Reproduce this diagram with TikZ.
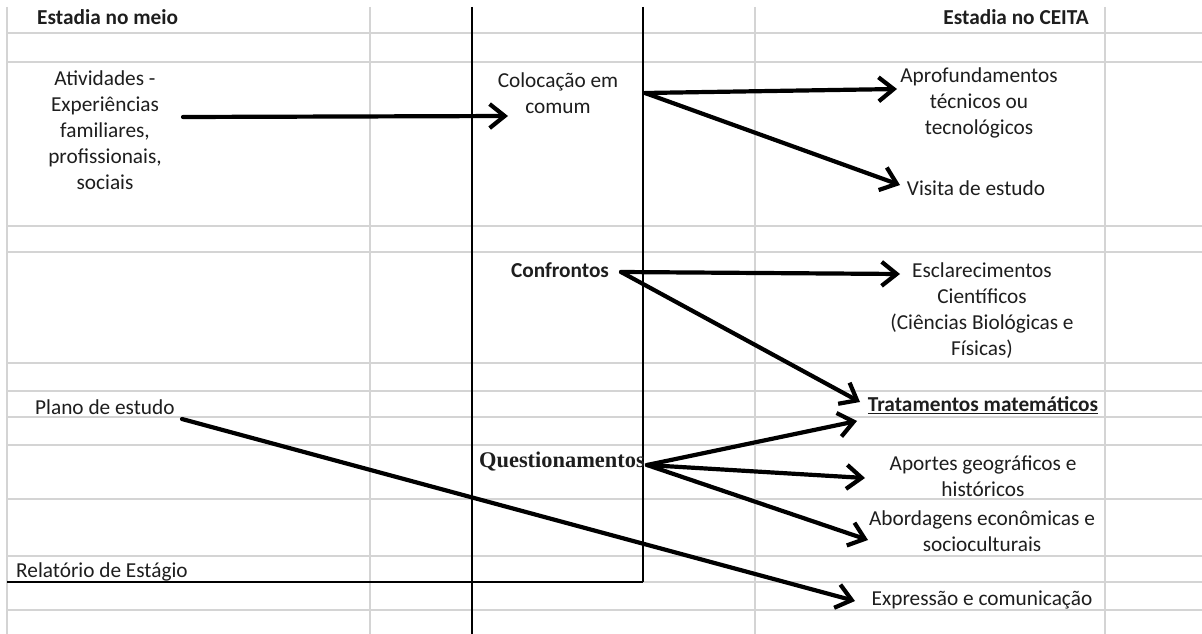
\documentclass[tikz,border=0pt]{standalone}
\usepackage{fontspec}
\setmainfont{Carlito}
\newfontfamily\qfont{Liberation Serif}
\usetikzlibrary{arrows.meta}
\definecolor{gridc}{HTML}{D4D4D4}
\definecolor{txtc}{HTML}{1E1E1E}
\tikzset{
  gridline/.style={gridc, line width=1.1pt},
  frameline/.style={black, line width=1.6pt},
  txt/.style={font=\fontsize{21.3}{26}\selectfont, text=txtc, align=center, inner sep=0pt},
  hdr/.style={txt, font=\fontsize{21.3}{26}\selectfont\bfseries},
  bigarrow/.style={line width=4.2pt, line cap=round, -{Straight Barb[length=15pt,width=24pt]}},
}
\begin{document}
\begin{tikzpicture}[x=1pt, y=-1pt]
\useasboundingbox (0,0) rectangle (1202,634);
\fill[white] (0,0) rectangle (1202,634);
% grid
\foreach \yy in {33,62,226,252,363,391,417,445,499,556,582,610}
  \draw[gridline] (7,\yy) -- (1202,\yy);
\foreach \xx in {7,370,755,1105}
  \draw[gridline] (\xx,7) -- (\xx,634);
% dark frame lines
\draw[frameline] (472,7) -- (472,634);
\draw[frameline] (643,7) -- (643,582);
\draw[frameline] (7,582) -- (643,582);

% texts
\node[hdr, anchor=west] (h1) at (37,17) {Estadia no meio};
\node[hdr] (h2) at (1016,17) {Estadia no CEITA};
\node[txt] (atv) at (105,130) {Atividades -\\Experiências\\familiares,\\profissionais,\\sociais};
\node[txt] (col) at (558,93) {Colocação em\\comum};
\node[txt] (apr) at (979,103) {Aprofundamentos\\técnicos ou\\tecnológicos};
\node[txt] (vis) at (976,188) {Visita de estudo};
\node[hdr] (conf) at (560,270) {Confrontos};
\node[txt] (escl) at (982,311) {Esclarecimentos\\Científicos\\(Ciências Biológicas e\\Físicas)};
\node[hdr] (trat) at (983,405) {\underline{Tratamentos matemáticos}};
\node[txt, anchor=west] (plano) at (35,407) {Plano de estudo};
\node[txt, font=\fontsize{22.4}{26}\selectfont\qfont\bfseries, anchor=west] (quest) at (479,462) {Questionamentos};
\node[txt] (aport) at (983,476) {Aportes geográficos e\\históricos};
\node[txt] (abord) at (982,531) {Abordagens econômicas e\\socioculturais};
\node[txt] (expr) at (982,600) {Expressão e comunicação};
\node[txt, anchor=west] (rel) at (16,572) {Relatório de Estágio};

% connector end points
\coordinate (atvE) at (183,117);
\coordinate (colW) at (508,116);
\coordinate (colE) at (645,93);
\coordinate (aprW) at (897,89);
\coordinate (visW) at (900,185);
\coordinate (confE) at (621,272);
\coordinate (esclW) at (900,274);
\coordinate (tratW1) at (860,402);
\coordinate (planoE) at (182,419);
\coordinate (exprW) at (855,601);
\coordinate (questE) at (647,465);
\coordinate (tratW2) at (857,421);
\coordinate (aportW) at (865,478);
\coordinate (abordW) at (868,540);

\draw[bigarrow] (atvE) -- (colW);
\draw[bigarrow] (colE) -- (aprW);
\draw[bigarrow] (colE) -- (visW);
\draw[bigarrow] (confE) -- (esclW);
\draw[bigarrow] (confE) -- (tratW1);
\draw[bigarrow] (planoE) -- (exprW);
\draw[bigarrow] (questE) -- (tratW2);
\draw[bigarrow] (questE) -- (aportW);
\draw[bigarrow] (questE) -- (abordW);
\end{tikzpicture}
\end{document}
